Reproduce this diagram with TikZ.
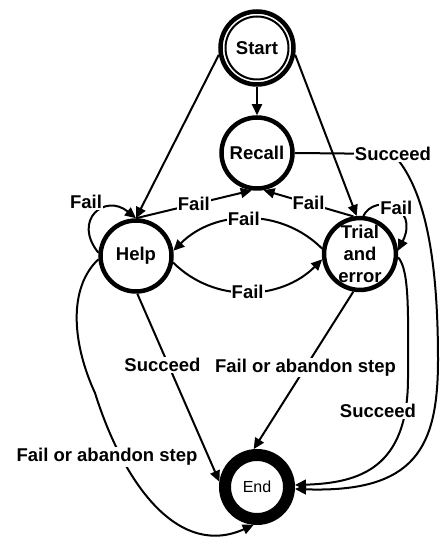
\documentclass[tikz,border=0pt]{standalone}
\usepackage{fontspec}
\setmainfont{Liberation Sans}
\usetikzlibrary{arrows.meta}

\begin{document}
\begin{tikzpicture}[x=1pt, y=1pt,
    state/.style={circle, draw, line width=4.5pt, minimum size=71pt, inner sep=0pt, align=center, font=\fontsize{18.5}{22}\selectfont\bfseries},
    lbl/.style={fill=white, inner sep=1pt, font=\fontsize{18.5}{20}\selectfont\bfseries},
    edge/.style={line width=2pt, -{Triangle[length=11pt,width=10pt]}}]
    \useasboundingbox (0,0) rectangle (440,538);
    \node[state, minimum size=73pt] (start) at (257,490) {Start};
    \draw[line width=2pt] (start.center) circle (31.5pt);
    \node[state] (recall) at (257,385) {Recall};
    \node[state] (help) at (136,282) {Help};
    \node[state] (trial) at (360,284) {Trial\\and\\error};
    \node[state, line width=12pt, minimum size=64pt, font=\fontsize{16}{18}\selectfont] (endn) at (257,51) {End};
    \draw[edge] (start) -- (recall);
    \draw[edge] (start.190) -- (help.north);
    \draw[edge] (start.-10) -- (trial.95);
    \draw[edge] (help.north) -- node[lbl] (failHR) {Fail} (recall.-98);
    \draw[edge] (trial.100) -- node[lbl] (failTR) {Fail} (recall.-80);
    \draw[edge] (trial.172) to[out=135, in=45] node[lbl, xshift=-4pt] (failTH) {Fail} (help.8);
    \draw[edge] (help.-10) to[out=-45, in=-135] node[lbl] (failHT) {Fail} (trial.188);
    \draw[edge] (help.175) .. controls (72,318) and (105,345) .. (help.north);
    \node[lbl] (failHH) at (86,336) {Fail};
    \draw[edge] (trial.85) .. controls (375,345) and (420,332) .. node[lbl, xshift=3pt] (failTT) {Fail} (trial.5);
    \draw[edge] (recall.east) -- (393,384) node[lbl] (sucR) {Succeed} .. controls (425,350) and (438,280) .. (438,178) .. controls (438,90) and (415,45) .. (endn.-3);
    \draw[edge] (trial.-5) .. controls (410,268) and (408,220) .. (408,160) .. controls (408,70) and (360,55) .. (endn.3);
    \node[lbl] (sucT) at (378,127) {Succeed};
    \draw[edge] (help.-88) -- node[lbl, pos=0.38, xshift=-6pt] (sucH) {Succeed} (endn.172);
    \draw[edge] (trial.-100) -- node[lbl, pos=0.48] (failTE) {Fail or abandon step} (endn.95);
    \draw[edge] (help.185) .. controls (68,250) and (72,195) .. (95,145) .. controls (125,50) and (180,-20) .. (endn.-95);
    \node[lbl] (failHE) at (107,81) {Fail or abandon step};
\end{tikzpicture}
\end{document}
